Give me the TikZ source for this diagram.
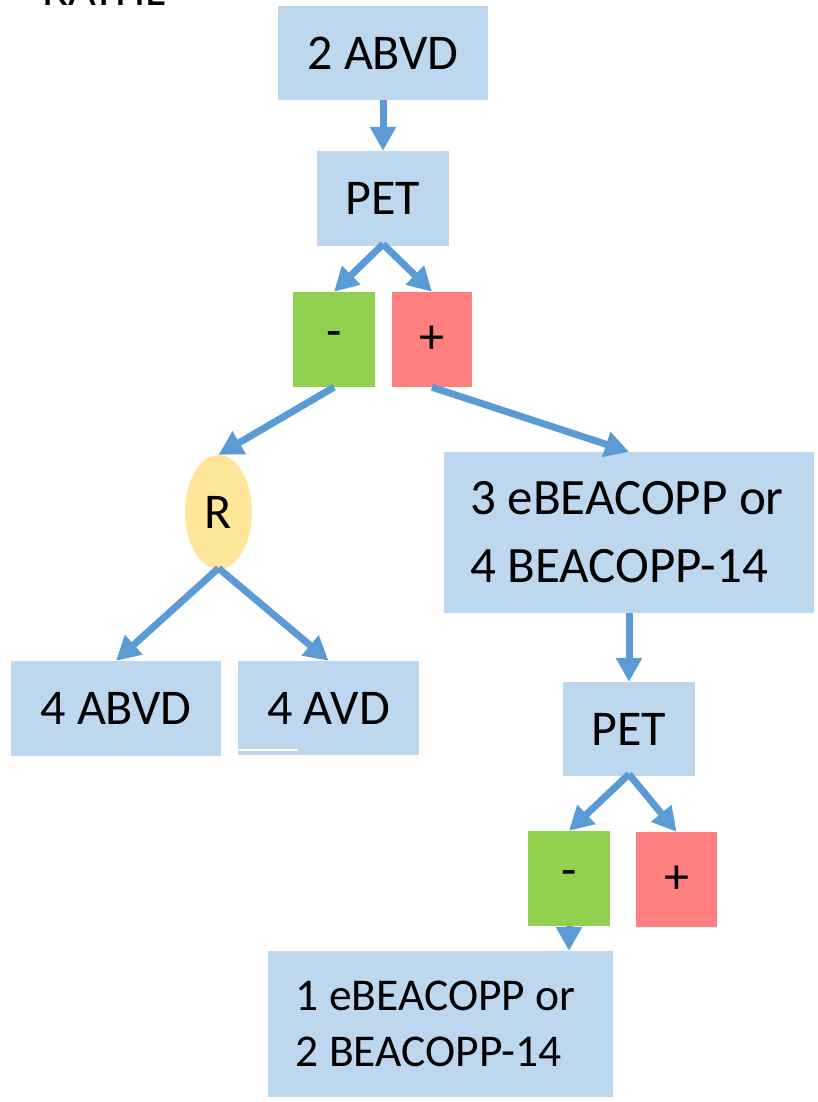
\documentclass[tikz,border=0pt]{standalone}
\usepackage{fontspec}
\setmainfont{Carlito}
\usetikzlibrary{arrows.meta,shapes.geometric}

\definecolor{boxblue}{HTML}{BDD7EE}
\definecolor{flowblue}{HTML}{5B9BD5}
\definecolor{negfill}{HTML}{92D050}
\definecolor{posfill}{HTML}{FF7F7F}
\definecolor{randfill}{HTML}{FFE699}

\tikzset{
  blk/.style={rectangle, fill=boxblue, inner sep=0pt, text=black,
              font=\fontsize{50}{60}\selectfont},
  negbox/.style={rectangle, fill=negfill, inner sep=0pt,
              font=\fontsize{50}{60}\selectfont},
  posbox/.style={rectangle, fill=posfill, inner sep=0pt,
              font=\fontsize{50}{60}\selectfont},
  randnode/.style={ellipse, fill=randfill, inner sep=0pt,
              font=\fontsize{50}{60}\selectfont},
  flow/.style={draw=flowblue, line width=7pt,
              -{Triangle[width=25pt,length=24pt]}},
}

\begin{document}
\begin{tikzpicture}[x=1pt,y=-1pt]
\useasboundingbox (0,0) rectangle (818,1102);
\clip (0,0) rectangle (818,1102);

% title, mostly above the page edge
\node[anchor=base west, inner sep=0pt, font=\fontsize{48}{58}\selectfont] (title) at (42,6) {RATHL};

% boxes
\node[blk, minimum width=210pt, minimum height=94pt] (abvd2) at (383,53) {2 ABVD};
\node[blk, minimum width=132pt, minimum height=95pt] (pet1) at (383,198.5) {PET};
\node[negbox, minimum width=82pt, minimum height=95pt] (neg1) at (334,339.5) {-};
\node[posbox, minimum width=80pt, minimum height=95pt] (pos1) at (432,339.5) {+};
\node[randnode, minimum width=67pt, minimum height=114pt] (rnd) at (218.5,512) {R};
\node[blk, minimum width=370pt, minimum height=161pt, align=left,
      font=\fontsize{51}{68}\selectfont] (esc) at (629,532.5)
      {3 eBEACOPP or\hspace*{4pt}\\4 BEACOPP-14};
\node[blk, minimum width=210pt, minimum height=95pt] (abvd4) at (116,708.5) {4 ABVD};
\node[blk, minimum width=181pt, minimum height=94pt] (avd4) at (328.5,708) {4 AVD};
\draw[white, line width=1.5pt] (238,750) -- (298,750);
\node[blk, minimum width=132pt, minimum height=94pt] (pet2) at (629,729) {PET};
\node[negbox, minimum width=82pt, minimum height=95pt] (neg2) at (569,878.5) {-};
\node[posbox, minimum width=81pt, minimum height=95pt] (pos2) at (676.5,879.5) {+};
\node[blk, minimum width=345pt, minimum height=146pt, align=left,
      font=\fontsize{45.5}{56}\selectfont] (cons) at (440.5,1024)
      {1 eBEACOPP or\hspace*{10pt}\\2 BEACOPP-14};

% connectors
\draw[flow] (abvd2.south) -- (pet1.north);
\draw[flow] ([yshift=2pt]pet1.south) -- (neg1.north);
\draw[flow] ([yshift=2pt]pet1.south) -- (pos1.north);
\draw[flow] (neg1.south) -- (rnd.north);
\draw[flow] (pos1.south) -- (esc.north);
\draw[flow] ([yshift=1pt]rnd.south) -- (abvd4.north);
\draw[flow] ([yshift=1pt]rnd.south) -- (avd4.north);
\draw[flow] (esc.south) -- (pet2.north);
\draw[flow] ([yshift=2pt]pet2.south) -- (neg2.north);
\draw[flow] ([yshift=2pt]pet2.south) -- (pos2.north);
\draw[flow] (neg2.south) -- (neg2.south |- cons.north);
\end{tikzpicture}
\end{document}
